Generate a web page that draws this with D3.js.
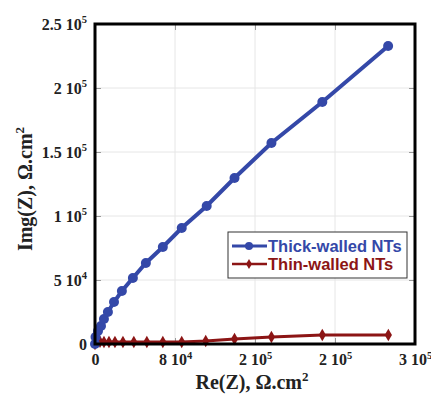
<!DOCTYPE html>
<html>
<head>
<meta charset="utf-8">
<script src="https://cdn.jsdelivr.net/npm/d3@7"></script>
<style>
  body { margin: 0; background: #fff; }
  .tick text { font-family: "Liberation Serif", "Times New Roman", serif; font-weight: bold; }
</style>
</head>
<body>
<svg id="chart"></svg>
<script>
// data (Re, Img in ohm.cm2)
const thickRe  = [0, 500, 2800, 5600, 8400, 12100, 17800, 25200, 35500, 47700, 63600, 81300, 104700, 130800, 165400, 213100, 274800];
const thickImg = [0, 5500, 10200, 14100, 19500, 25000, 32800, 41400, 51600, 63300, 75800, 90600, 107800, 129700, 157000, 189000, 232800];
const thinRe   = [0, 300, 1000, 2000, 4700, 8400, 13100, 18700, 26200, 36400, 48600, 63600, 81300, 103800, 130800, 165400, 213100, 275000];
const thinImg  = [0, 2000, 5000, 3500, 1800, 1600, 1500, 1500, 1500, 1500, 1600, 1600, 1600, 2300, 3900, 5500, 7000, 7000];
const xTicks = [0, 75000, 150000, 225000, 300000];
const xTickLabels = [["0", ""], ["8 10", "4"], ["2 10", "5"], ["2 10", "5"], ["3 10", "5"]];
const yTicks = [0, 50000, 100000, 150000, 200000, 250000];
const yTickLabels = [["0", ""], ["5 10", "4"], ["1 10", "5"], ["1.5 10", "5"], ["2 10", "5"], ["2.5 10", "5"]];
const seriesNames = ["Thick-walled NTs", "Thin-walled NTs"];
const seriesColors = ["#3448a8", "#8c1515"];

const width = 431, height = 400;
const mLeft = 95, mTop = 24, mRight = 415, mBottom = 344;

const svg = d3.select("#chart").attr("width", width).attr("height", height);

const x = d3.scaleLinear().domain([0, 300000]).range([mLeft, mRight]);
const y = d3.scaleLinear().domain([0, 250000]).range([mBottom, mTop]);

// grid
const grid = svg.append("g");
grid.selectAll(".gx").data(xTicks.slice(1, -1)).enter().append("line")
    .attr("x1", d => x(d)).attr("x2", d => x(d)).attr("y1", mTop).attr("y2", mBottom)
    .attr("stroke", "#e6e6e6").attr("stroke-width", 1);
grid.selectAll(".gy").data(yTicks.slice(1, -1)).enter().append("line")
    .attr("y1", d => y(d)).attr("y2", d => y(d)).attr("x1", mLeft).attr("x2", mRight)
    .attr("stroke", "#e6e6e6").attr("stroke-width", 1);

// axes with inner ticks
function labelTicks(sel, labels, ticks) {
    sel.selectAll(".tick text").each(function (d) {
        const i = ticks.indexOf(d);
        const t = d3.select(this).text(labels[i][0]);
        if (labels[i][1]) {
            t.append("tspan").attr("dy", "-0.6em").attr("font-size", "10.5px").text(labels[i][1]);
        }
    });
}

const xAxis = svg.append("g").attr("transform", "translate(0," + mBottom + ")")
    .call(d3.axisBottom(x).tickValues(xTicks).tickSizeInner(-6).tickSizeOuter(0).tickPadding(10));
xAxis.selectAll(".tick text").attr("font-size", "16px").attr("fill", "#222");
labelTicks(xAxis, xTickLabels, xTicks);
xAxis.select(".domain").remove();
xAxis.selectAll(".tick line").attr("stroke", "#999");

const yAxis = svg.append("g").attr("transform", "translate(" + mLeft + ",0)")
    .call(d3.axisLeft(y).tickValues(yTicks).tickSizeInner(-6).tickSizeOuter(0).tickPadding(8));
yAxis.selectAll(".tick text").attr("font-size", "16px").attr("fill", "#222");
labelTicks(yAxis, yTickLabels, yTicks);
yAxis.select(".domain").remove();
yAxis.selectAll(".tick line").attr("stroke", "#999");

svg.append("g").attr("transform", "translate(0," + mTop + ")")
    .call(d3.axisTop(x).tickValues(xTicks).tickSizeInner(-6).tickSizeOuter(0).tickFormat(""))
    .call(g => g.select(".domain").remove())
    .selectAll(".tick line").attr("stroke", "#999");
svg.append("g").attr("transform", "translate(" + mRight + ",0)")
    .call(d3.axisRight(y).tickValues(yTicks).tickSizeInner(-6).tickSizeOuter(0).tickFormat(""))
    .call(g => g.select(".domain").remove())
    .selectAll(".tick line").attr("stroke", "#999");

// series
const line = d3.line().x(d => x(d[0])).y(d => y(d[1]));
const thick = d3.zip(thickRe, thickImg);
const thin = d3.zip(thinRe, thinImg);

svg.append("path").datum(thin).attr("d", line)
    .attr("fill", "none").attr("stroke", seriesColors[1]).attr("stroke-width", 3);
svg.selectAll(".thin").data(thin).enter().append("path")
    .attr("transform", d => "translate(" + x(d[0]) + "," + y(d[1]) + ")")
    .attr("d", d3.symbol(d3.symbolDiamond, 45))
    .attr("fill", seriesColors[1]);

svg.append("path").datum(thick).attr("d", line)
    .attr("fill", "none").attr("stroke", seriesColors[0]).attr("stroke-width", 4);
svg.selectAll(".thick").data(thick).enter().append("circle")
    .attr("cx", d => x(d[0])).attr("cy", d => y(d[1])).attr("r", 5)
    .attr("fill", seriesColors[0]);

// frame
svg.append("rect").attr("x", mLeft).attr("y", mTop).attr("width", mRight - mLeft).attr("height", mBottom - mTop)
    .attr("fill", "none").attr("stroke", "#000").attr("stroke-width", 3);

// legend
const lg = svg.append("g");
lg.append("rect").attr("x", 228).attr("y", 232).attr("width", 179).attr("height", 46)
    .attr("fill", "#fff").attr("stroke", "#333").attr("stroke-width", 1);
seriesNames.forEach(function (name, i) {
    const ly = 246 + i * 18;
    lg.append("line").attr("x1", 232).attr("x2", 267).attr("y1", ly).attr("y2", ly)
        .attr("stroke", seriesColors[i]).attr("stroke-width", i ? 2.5 : 3);
    if (i === 0) {
        lg.append("circle").attr("cx", 249).attr("cy", ly).attr("r", 4).attr("fill", seriesColors[i]);
    } else {
        lg.append("path").attr("transform", "translate(249," + ly + ")")
            .attr("d", d3.symbol(d3.symbolDiamond, 30)).attr("fill", seriesColors[i]);
    }
    lg.append("text").attr("x", 268).attr("y", ly + 6)
        .attr("font-family", "'Liberation Sans', Arial, sans-serif").attr("font-weight", "bold")
        .attr("font-size", "16.5px").attr("fill", seriesColors[i]).text(name);
});

// axis titles
const titleFont = "'Liberation Serif', 'Times New Roman', serif";
const xt = svg.append("text").attr("x", 252).attr("y", 389).attr("text-anchor", "middle")
    .attr("font-family", titleFont).attr("font-weight", "bold").attr("font-size", "20px").attr("fill", "#222")
    .text("Re(Z), Ω.cm");
xt.append("tspan").attr("dy", "-0.6em").attr("font-size", "13px").text("2");

const yt = svg.append("text").attr("transform", "translate(32,189) rotate(-90)").attr("text-anchor", "middle")
    .attr("font-family", titleFont).attr("font-weight", "bold").attr("font-size", "20px").attr("fill", "#222")
    .text("Img(Z), Ω.cm");
yt.append("tspan").attr("dy", "-0.6em").attr("font-size", "13px").text("2");
</script>
</body>
</html>
